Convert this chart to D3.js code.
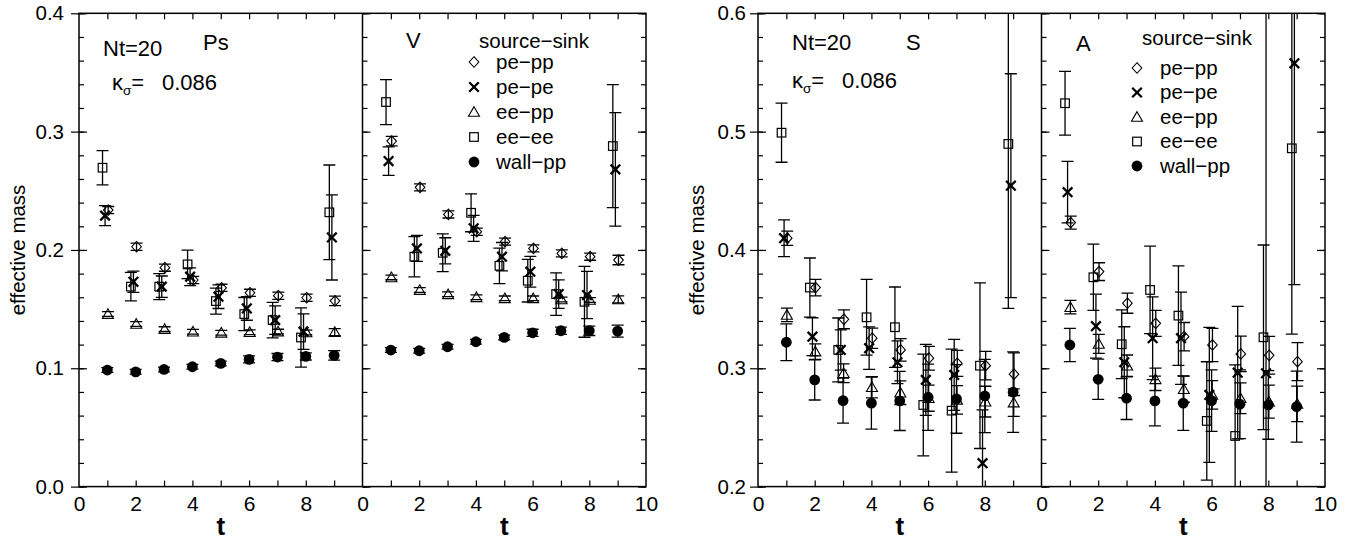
<!DOCTYPE html>
<html>
<head>
<meta charset="utf-8">
<script src="https://cdn.jsdelivr.net/npm/d3@7"></script>
<style>
  body { margin: 0; background: #fff; }
  svg { display: block; }
  text { font-family: "Liberation Sans", Arial, Helvetica, sans-serif; fill: #000; }
</style>
</head>
<body>
<svg id="chart" width="1356" height="541"></svg>
<script>
// time slices
const tValues = [1, 2, 3, 4, 5, 6, 7, 8, 9];
const seriesKeys = ["pepp", "pepe", "eepp", "eeee", "wall"];
const seriesLabels = ["pe\u2212pp", "pe\u2212pe", "ee\u2212pp", "ee\u2212ee", "wall\u2212pp"];

// Ps channel
const psPePp = [0.2337, 0.2027, 0.185, 0.1746, 0.168, 0.1638, 0.1613, 0.1596, 0.157];
const psPePpErr = [0.003, 0.003, 0.003, 0.003, 0.003, 0.003, 0.003, 0.003, 0.004];
const psPePe = [0.229, 0.1731, 0.169, 0.1774, 0.1605, 0.1506, 0.1407, 0.1309, 0.2106];
const psPePeErr = [0.0085, 0.009, 0.009, 0.0075, 0.01, 0.01, 0.012, 0.015, 0.036];
const psEePp = [0.1458, 0.1374, 0.1331, 0.1309, 0.130, 0.1305, 0.131, 0.1303, 0.1305];
const psEePpErr = [0.002, 0.002, 0.002, 0.002, 0.002, 0.002, 0.002, 0.002, 0.003];
const psEeEe = [0.2695, 0.169, 0.169, 0.1878, 0.1568, 0.1458, 0.1407, 0.126, 0.2318];
const psEeEeErr = [0.0145, 0.012, 0.011, 0.012, 0.011, 0.014, 0.015, 0.025, 0.04];
const psWall = [0.0985, 0.097, 0.099, 0.1013, 0.1041, 0.1075, 0.1095, 0.110, 0.1109];
const psWallErr = [0.002, 0.002, 0.002, 0.002, 0.002, 0.003, 0.003, 0.003, 0.004];

// V channel
const vPePp = [0.292, 0.2529, 0.230, 0.2154, 0.207, 0.2013, 0.1971, 0.1943, 0.1915];
const vPePpErr = [0.004, 0.003, 0.003, 0.003, 0.003, 0.003, 0.003, 0.003, 0.004];
const vPePe = [0.2751, 0.2013, 0.1993, 0.2183, 0.1943, 0.1816, 0.1627, 0.1619, 0.2681];
const vPePeErr = [0.012, 0.011, 0.011, 0.011, 0.012, 0.013, 0.012, 0.02, 0.048];
const vEePp = [0.1768, 0.1661, 0.1625, 0.160, 0.1591, 0.1591, 0.1582, 0.1577, 0.1582];
const vEePpErr = [0.002, 0.002, 0.002, 0.002, 0.002, 0.002, 0.002, 0.002, 0.003];
const vEeEe = [0.325, 0.1943, 0.1976, 0.2314, 0.1866, 0.174, 0.1627, 0.1562, 0.2878];
const vEeEeErr = [0.019, 0.017, 0.016, 0.016, 0.015, 0.018, 0.018, 0.03, 0.052];
const vWall = [0.1154, 0.1148, 0.1182, 0.1224, 0.1261, 0.130, 0.1317, 0.1317, 0.1314];
const vWallErr = [0.002, 0.002, 0.002, 0.002, 0.002, 0.003, 0.003, 0.004, 0.005];

// S channel
const sPePp = [0.4099, 0.3682, 0.3414, 0.3254, 0.3155, 0.3085, 0.3042, 0.3022, 0.295];
const sPePpErr = [0.006, 0.007, 0.008, 0.0085, 0.0095, 0.01, 0.011, 0.012, 0.018];
const sPePe = [0.4099, 0.3267, 0.3155, 0.317, 0.3051, 0.2902, 0.2944, 0.2198, 0.4543];
const sPePeErr = [0.0155, 0.016, 0.017, 0.018, 0.018, 0.03, 0.03, 0.045, 0.0946];
const sEePp = [0.3451, 0.3141, 0.2958, 0.284, 0.2794, 0.2747, 0.2733, 0.2718, 0.271];
const sEePpErr = [0.0057, 0.0065, 0.008, 0.009, 0.01, 0.011, 0.012, 0.013, 0.0116];
const sEeEe = [0.4991, 0.3682, 0.3155, 0.3431, 0.3347, 0.269, 0.2642, 0.3022, 0.4896];
const sEeEeErr = [0.025, 0.025, 0.027, 0.032, 0.034, 0.043, 0.052, 0.07, 0.139];
const sWall = [0.322, 0.2902, 0.2727, 0.2705, 0.2724, 0.2755, 0.2741, 0.2766, 0.2798];
const sWallErr = [0.0155, 0.017, 0.019, 0.022, 0.025, 0.028, 0.029, 0.031, 0.034];

// A channel
const aPePp = [0.4231, 0.3817, 0.355, 0.338, 0.3267, 0.3197, 0.3121, 0.311, 0.3056];
const aPePpErr = [0.0055, 0.0075, 0.0085, 0.011, 0.012, 0.014, 0.015, 0.016, 0.016];
const aPePe = [0.4488, 0.3356, 0.3051, 0.3254, 0.3254, 0.2775, 0.2963, 0.2958, 0.5577];
const aPePeErr = [0.026, 0.027, 0.03, 0.035, 0.039, 0.057, 0.056, 0.4, 0.187];
const aEePp = [0.3516, 0.3206, 0.3022, 0.2907, 0.2823, 0.2775, 0.2747, 0.2718, 0.2699];
const aEePpErr = [0.0057, 0.008, 0.009, 0.0095, 0.011, 0.012, 0.013, 0.014, 0.015];
const aEeEe = [0.524, 0.3769, 0.3203, 0.3662, 0.3445, 0.2555, 0.2428, 0.3262, 0.4859];
const aEeEeErr = [0.027, 0.028, 0.029, 0.037, 0.042, 0.05, 0.06, 0.078, 0.157];
const aWall = [0.3197, 0.2907, 0.2747, 0.2724, 0.2705, 0.2727, 0.2696, 0.269, 0.2676];
const aWallErr = [0.0141, 0.017, 0.018, 0.021, 0.023, 0.026, 0.029, 0.029, 0.03];

// horizontal shift of each series so points don't sit on top of each other
const tShift = { pepp: 0.03, pepe: -0.08, eepp: 0.02, eeee: -0.17, wall: 0 };

// --- layout ---
const plotTop = 13.3, plotBottom = 486.6, panelW = 283.5;

const plots = [
  {
    x0: 79, yDomain: [0, 0.4], yFmt: d3.format(".1f"), yPad: 15, ylabelX: 25,
    nt: { x: 103, y: 56 }, kappa: { x: 112, y: 90, vx: 162 },
    legend: { x: 474, textX: 496, titleX: 479, titleY: 48, rows: [62, 87, 112, 137, 162] },
    panels: [
      { name: "Ps", nameX: 203, nameY: 50,
        data: { pepp: [psPePp, psPePpErr], pepe: [psPePe, psPePeErr], eepp: [psEePp, psEePpErr], eeee: [psEeEe, psEeEeErr], wall: [psWall, psWallErr] } },
      { name: "V", nameX: 406, nameY: 48,
        data: { pepp: [vPePp, vPePpErr], pepe: [vPePe, vPePeErr], eepp: [vEePp, vEePpErr], eeee: [vEeEe, vEeEeErr], wall: [vWall, vWallErr] } }
    ]
  },
  {
    x0: 758, yDomain: [0.2, 0.6], yFmt: d3.format(".1f"), yPad: 12, ylabelX: 704,
    nt: { x: 792, y: 50 }, kappa: { x: 792, y: 88, vx: 842 },
    legend: { x: 1137, textX: 1160, titleX: 1142, titleY: 45, rows: [68, 92.5, 117, 141.5, 166] },
    panels: [
      { name: "S", nameX: 906, nameY: 50,
        data: { pepp: [sPePp, sPePpErr], pepe: [sPePe, sPePeErr], eepp: [sEePp, sEePpErr], eeee: [sEeEe, sEeEeErr], wall: [sWall, sWallErr] } },
      { name: "A", nameX: 1076, nameY: 51,
        data: { pepp: [aPePp, aPePpErr], pepe: [aPePe, aPePeErr], eepp: [aEePp, aEePpErr], eeee: [aEeEe, aEeEeErr], wall: [aWall, aWallErr] } }
    ]
  }
];

const svg = d3.select("#chart");

// draw one marker symbol into a group
function drawSymbol(g, key) {
  if (key === "pepp") {
    g.append("path").attr("d", "M0,-5.3L4.8,0L0,5.3L-4.8,0Z")
      .attr("fill", "none").attr("stroke", "#000").attr("stroke-width", 1.1);
  } else if (key === "pepe") {
    g.append("path").attr("d", "M-4.8,-4.8L4.8,4.8M-4.8,4.8L4.8,-4.8")
      .attr("stroke", "#000").attr("stroke-width", 2.3);
  } else if (key === "eepp") {
    g.append("path").attr("d", "M0,-5.3L5.5,4.3L-5.5,4.3Z")
      .attr("fill", "none").attr("stroke", "#000").attr("stroke-width", 1.1);
  } else if (key === "eeee") {
    g.append("rect").attr("x", -4.3).attr("y", -4.3).attr("width", 8.6).attr("height", 8.6)
      .attr("fill", "none").attr("stroke", "#000").attr("stroke-width", 1.2);
  } else {
    g.append("circle").attr("r", 5.4).attr("fill", "#000");
  }
}

plots.forEach((p, pi) => {
  const y = d3.scaleLinear().domain(p.yDomain).range([plotBottom, plotTop]);
  const g = svg.append("g");

  const clipId = "clip" + pi;
  svg.append("clipPath").attr("id", clipId)
    .append("rect").attr("x", p.x0).attr("y", plotTop).attr("width", panelW * 2).attr("height", plotBottom - plotTop);

  const yMajor = d3.range(0, 5).map(i => p.yDomain[0] + i * 0.1);
  const yMinor = d3.range(0, 21).map(i => p.yDomain[0] + i * 0.02);

  p.panels.forEach((panel, k) => {
    const px = p.x0 + k * panelW;
    const x = d3.scaleLinear().domain([0, 10]).range([px, px + panelW]);

    // bottom axis labels
    g.append("g").attr("transform", `translate(0,${plotBottom})`)
      .call(d3.axisBottom(x).tickValues(k === 0 ? [0, 2, 4, 6, 8] : [0, 2, 4, 6, 8, 10])
        .tickSize(0).tickPadding(9).tickFormat(d3.format("d")))
      .call(a => a.select(".domain").remove())
      .call(a => a.selectAll("text").attr("font-size", 21).attr("font-family", null));

    // inward ticks at bottom and top
    g.append("g").attr("transform", `translate(0,${plotBottom})`)
      .call(d3.axisBottom(x).tickValues(d3.range(1, 10)).tickSize(-6).tickFormat(""))
      .call(a => a.select(".domain").remove())
      .call(a => a.selectAll("line").attr("stroke-width", 1.2));
    g.append("g").attr("transform", `translate(0,${plotTop})`)
      .call(d3.axisTop(x).tickValues(d3.range(1, 10)).tickSize(-6).tickFormat(""))
      .call(a => a.select(".domain").remove())
      .call(a => a.selectAll("line").attr("stroke-width", 1.2));

    // inward y ticks on the panel's left edge
    g.append("g").attr("transform", `translate(${px},0)`)
      .call(d3.axisLeft(y).tickValues(yMinor).tickSize(-5).tickFormat(""))
      .call(a => a.select(".domain").remove())
      .call(a => a.selectAll("line").attr("stroke-width", 1.2));
    g.append("g").attr("transform", `translate(${px},0)`)
      .call(d3.axisLeft(y).tickValues(yMajor).tickSize(-8).tickFormat(""))
      .call(a => a.select(".domain").remove())
      .call(a => a.selectAll("line").attr("stroke-width", 1.2));

    // "t" label
    g.append("text").attr("x", px + panelW / 2).attr("y", 535)
      .attr("text-anchor", "middle").attr("font-size", 26).attr("font-weight", "bold").text("t");

    // panel name
    g.append("text").attr("x", panel.nameX).attr("y", panel.nameY)
      .attr("font-size", 22).text(panel.name);

    // data
    const layer = g.append("g").attr("clip-path", `url(#${clipId})`);
    seriesKeys.forEach(key => {
      const [vals, errs] = panel.data[key];
      const pts = tValues.map((t, i) => ({ t: t + tShift[key], v: vals[i], e: errs[i] }));
      const bars = layer.append("g").attr("stroke", "#000").attr("stroke-width", 1.3);
      pts.forEach(d => {
        const cx = x(d.t);
        const y1 = y(d.v + d.e), y2 = y(d.v - d.e);
        if (Math.abs(y2 - y1) > 6) {
          bars.append("line").attr("x1", cx).attr("x2", cx).attr("y1", y1).attr("y2", y2);
        }
        [y1, y2].forEach(yy => {
          bars.append("line").attr("x1", cx - 6).attr("x2", cx + 6).attr("y1", yy).attr("y2", yy);
        });
      });
      pts.forEach(d => {
        const m = layer.append("g").attr("transform", `translate(${x(d.t)},${y(d.v)})`);
        drawSymbol(m, key);
      });
    });
  });

  // right edge inward ticks
  const xr = p.x0 + panelW * 2;
  g.append("g").attr("transform", `translate(${xr},0)`)
    .call(d3.axisRight(y).tickValues(yMinor).tickSize(-5).tickFormat(""))
    .call(a => a.select(".domain").remove())
    .call(a => a.selectAll("line").attr("stroke-width", 1.2));
  g.append("g").attr("transform", `translate(${xr},0)`)
    .call(d3.axisRight(y).tickValues(yMajor).tickSize(-8).tickFormat(""))
    .call(a => a.select(".domain").remove())
    .call(a => a.selectAll("line").attr("stroke-width", 1.2));

  // outer left axis with labels and outward major ticks
  g.append("g").attr("transform", `translate(${p.x0},0)`)
    .call(d3.axisLeft(y).tickValues(yMajor).tickSize(8).tickPadding(p.yPad - 8).tickFormat(p.yFmt))
    .call(a => a.select(".domain").remove())
    .call(a => a.selectAll("line").attr("stroke-width", 1.2))
    .call(a => a.selectAll("text").attr("font-size", 20.5).attr("font-family", null));

  // frame and divider
  g.append("rect").attr("x", p.x0).attr("y", plotTop).attr("width", panelW * 2).attr("height", plotBottom - plotTop)
    .attr("fill", "none").attr("stroke", "#000").attr("stroke-width", 1.5);
  g.append("line").attr("x1", p.x0 + panelW).attr("x2", p.x0 + panelW).attr("y1", plotTop).attr("y2", plotBottom)
    .attr("stroke", "#000").attr("stroke-width", 1.5);

  // y label
  g.append("text").attr("transform", `translate(${p.ylabelX},${(plotTop + plotBottom) / 2}) rotate(-90)`)
    .attr("text-anchor", "middle").attr("font-size", 20.5).text("effective mass");

  // annotations
  g.append("text").attr("x", p.nt.x).attr("y", p.nt.y).attr("font-size", 22).text("Nt=20");
  const kt = g.append("text").attr("x", p.kappa.x).attr("y", p.kappa.y).attr("font-size", 22);
  kt.append("tspan").text("\u03ba");
  kt.append("tspan").attr("font-size", 13.5).attr("dy", 5).text("\u03c3");
  kt.append("tspan").attr("dy", -5).text("=");
  g.append("text").attr("x", p.kappa.vx).attr("y", p.kappa.y).attr("font-size", 22).text("0.086");

  // legend
  const lg = g.append("g");
  lg.append("text").attr("x", p.legend.titleX).attr("y", p.legend.titleY).attr("font-size", 20.5).text("source\u2212sink");
  seriesKeys.forEach((key, i) => {
    const cy = p.legend.rows[i];
    drawSymbol(lg.append("g").attr("transform", `translate(${p.legend.x},${cy})`), key);
    lg.append("text").attr("x", p.legend.textX).attr("y", cy + 6.5).attr("font-size", 20.5).text(seriesLabels[i]);
  });
});
</script>
</body>
</html>
